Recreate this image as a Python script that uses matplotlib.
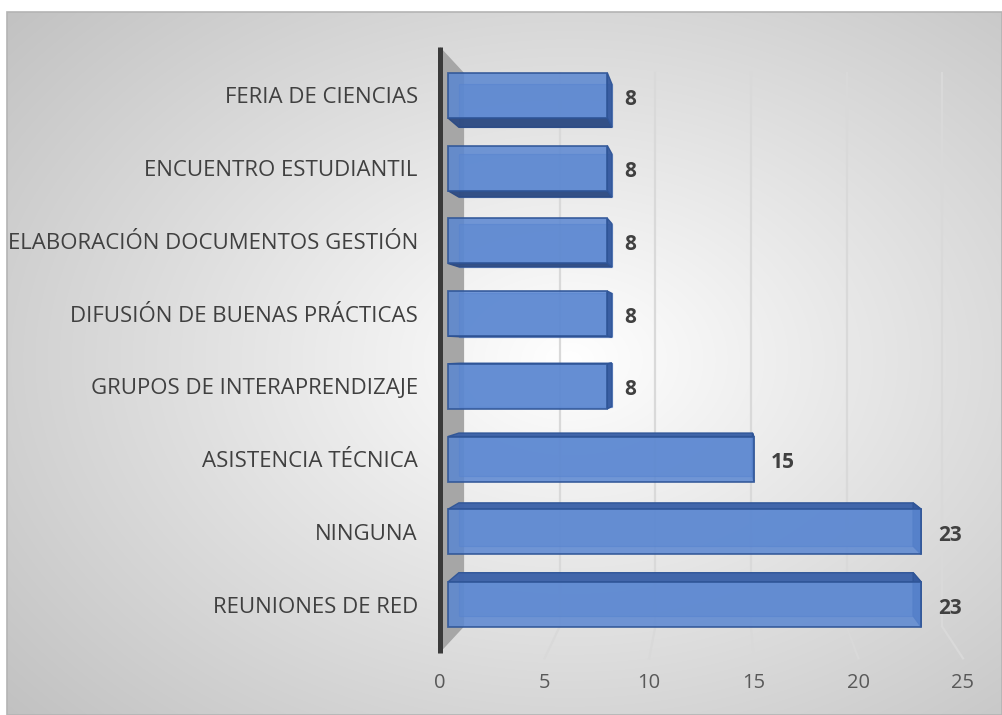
import numpy as np
import matplotlib
matplotlib.use("Agg")
import matplotlib.pyplot as plt
from matplotlib.patches import Polygon, Rectangle

# ---- data -------------------------------------------------------------
categories = [
    "REUNIONES DE RED",
    "NINGUNA",
    "ASISTENCIA TÉCNICA",
    "GRUPOS DE INTERAPRENDIZAJE",
    "DIFUSIÓN DE BUENAS PRÁCTICAS",
    "ELABORACIÓN DOCUMENTOS GESTIÓN",
    "ENCUENTRO ESTUDIANTIL",
    "FERIA DE CIENCIAS",
]
values = [23, 23, 15, 8, 8, 8, 8, 8]
x_ticks = [0, 5, 10, 15, 20, 25]

# ---- figure -----------------------------------------------------------
W, H = 1002, 715
fig = plt.figure(figsize=(W / 100, H / 100), dpi=100)

# radial background of the chart area
bg = fig.add_axes([0, 0, 1, 1])
bg.set_xlim(0, W)
bg.set_ylim(H, 0)
bg.axis("off")
gx, gy = np.meshgrid(np.linspace(7, W, 400), np.linspace(12, H, 300))
t = np.sqrt(((gx - 570) / 560) ** 2 + ((gy - 360) / 400) ** 2)
shade = np.clip(255 - 46 * t, 188, 255) / 255
bg.imshow(np.dstack([shade, shade, shade]), extent=[7, W, H, 12],
          aspect="auto", interpolation="bilinear", zorder=0)
bg.add_patch(Rectangle((7, 12), W - 7, H - 12, fill=False,
                       edgecolor="#b4b4b4", lw=1.2, zorder=1))

# plot axes: x in value units, y in category slots
ax = fig.add_axes([440 / W, (H - 660) / H, 523 / W, 630 / H])
ax.set_xlim(0, 25)
ax.set_ylim(-0.763, 7.90)
ax.patch.set_visible(False)
for s in ax.spines.values():
    s.set_visible(False)

# simple perspective: points shrink toward a vanishing point
VX, VY = 13.4, 3.5


def proj(x, y, k):
    return (VX + (x - VX) * k, VY + (y - VY) * k)


K_WALL = 0.914      # depth of the back wall
K_BAR = 0.96        # depth of each bar
top_y, bot_y = 7.667, -0.66

# side wall
wall = [proj(0, top_y, 1), proj(0, top_y, K_WALL),
        proj(0, bot_y, K_WALL), proj(0, bot_y, 1)]
ax.add_patch(Polygon(wall, closed=True, facecolor="#a6a6a6",
                     edgecolor="none", zorder=1))
ax.plot([0, 0], [bot_y, top_y], color="#3a3a3a", lw=3.6,
        solid_capstyle="butt", zorder=2, clip_on=False)

# gridlines on back wall and floor
for v in x_ticks[1:]:
    bx0, by0 = proj(v, top_y, K_WALL)
    bx1, by1 = proj(v, bot_y, K_WALL)
    ax.plot([bx0, bx1], [by0, by1], color="#d9d9d9", lw=1.6, zorder=1)
    ax.plot([bx1, v], [by1, bot_y - 0.08], color="#d9d9d9", lw=1.6,
            zorder=1, clip_on=False)

# bars as transparent boxes
ypos = np.arange(len(categories))
h = 0.62
x0 = 0.38
front = ax.barh(ypos, [v - x0 for v in values], left=x0, height=h,
                color="#5b87d1", alpha=0.86, edgecolor="#2f5597",
                linewidth=1.3, zorder=6)

for y, v in zip(ypos, values):
    yb, yt = y - h / 2, y + h / 2
    fl, fr = x0, v
    bl_ = proj(fl, yb, K_BAR)
    br_ = proj(fr, yb, K_BAR)
    tl_ = proj(fl, yt, K_BAR)
    tr_ = proj(fr, yt, K_BAR)
    # back face
    ax.add_patch(Polygon([bl_, br_, tr_, tl_], closed=True,
                         facecolor="#5b87d1", alpha=0.55,
                         edgecolor="#3d6bc0", lw=0.9, zorder=3))
    # top or bottom face
    if yt < VY:
        ax.add_patch(Polygon([(fl, yt), (fr, yt), tr_, tl_], closed=True,
                             facecolor="#3d62a8", edgecolor="#2f5597",
                             lw=1.0, alpha=0.95, zorder=4))
    else:
        ax.add_patch(Polygon([(fl, yb), (fr, yb), br_, bl_], closed=True,
                             facecolor="#2e4b82", edgecolor="#2a4a85",
                             lw=1.0, alpha=0.95, zorder=4))
    # end face
    ax.add_patch(Polygon([(fr, yb), (fr, yt), tr_, br_], closed=True,
                         facecolor="#355aa0", edgecolor="#2f5597",
                         lw=1.0, alpha=0.95, zorder=5))
    # value label
    ax.annotate(f"{v}", xy=(fr, y - 0.05), xytext=(12, 0),
                textcoords="offset points", ha="left", va="center",
                fontsize=15, fontweight="bold", color="#404040",
                family="Open Sans", zorder=8)

# axis labels
ax.set_yticks(ypos)
ax.set_yticklabels(categories, fontsize=16, color="#404040",
                   family="Open Sans")
ax.tick_params(axis="y", length=0, pad=16)
ax.set_xticks(x_ticks)
ax.set_xticklabels([str(v) for v in x_ticks], fontsize=14.5,
                   color="#595959", family="Open Sans")
ax.tick_params(axis="x", length=0, pad=9)

fig.savefig("out.png", dpi=100)
